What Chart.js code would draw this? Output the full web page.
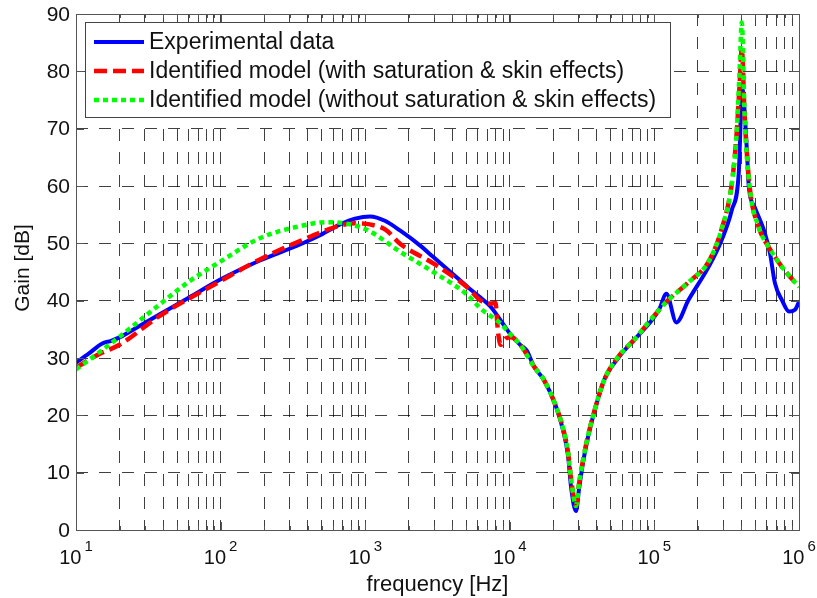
<!DOCTYPE html>
<html>
<head>
<meta charset="utf-8">
<script src="https://cdn.jsdelivr.net/npm/chart.js@4.4.0/dist/chart.umd.min.js"></script>
<style>
  html, body { margin: 0; padding: 0; background: #fff; }
  #wrap { width: 817px; height: 598px; }
</style>
</head>
<body>
<div id="wrap"><canvas id="bode" width="817" height="598"></canvas></div>
<script>
// axis ticks
const decades = [10, 100, 1000, 10000, 100000, 1000000];
const decadeExponents = ["1", "2", "3", "4", "5", "6"];
const gainTicks = [0, 10, 20, 30, 40, 50, 60, 70, 80, 90];
const xTitle = "frequency [Hz]";
const yTitle = "Gain [dB]";

const seriesNames = [
  "Experimental data",
  "Identified model (with saturation & skin effects)",
  "Identified model (without saturation & skin effects)"
];

// experimental data (blue)
const expFreq = [10, 12.3, 15.1, 17.5, 20, 27.5, 37.7, 61, 98, 187, 354, 487, 670, 850, 1080,
  1380, 1750, 2400, 2960, 3890, 5100, 6300, 7400, 8670, 10200, 11900, 13100, 14700, 17200, 20900,
  23300, 25300, 26500, 28700, 30100, 32100, 34800, 38300, 45000, 56200, 72600, 95300, 108000, 121000, 142000,
  172000, 237000, 292000, 343000, 383000, 405000, 435000, 450000, 494000, 580000, 630000, 681000, 762000, 853000, 938000,
  1000000];
const expGain = [29.2, 30.8, 32.5, 33.0, 33.6, 35.6, 37.6, 40.6, 43.6, 47.0, 49.8, 51.4, 53.3, 54.3, 54.7,
  53.9, 52.2, 49.6, 47.6, 45.0, 42.4, 40.5, 38.9, 36.5, 34.0, 32.2, 31.3, 28.5, 26.2, 21.5,
  17.5, 12.9, 7.6, 3.3, 7.1, 11.8, 16.3, 20.5, 26.2, 30.0, 33.2, 36.5, 38.5, 41.2, 36.2,
  40.1, 45.9, 50.6, 55.8, 62.2, 77.0, 66.7, 59.8, 56.3, 51.8, 48.3, 43.1, 40.1, 38.1, 38.4,
  39.8];

// model with saturation & skin effects (red)
const satFreq = [10, 14.5, 20, 37.7, 98, 187, 354, 670, 850, 1080, 1380, 1750, 2960, 5100, 6300,
  7400, 7950, 8300, 8670, 9370, 10200, 11900, 14700, 17200, 20900, 23300, 25300, 26500, 28700, 30100,
  32100, 34800, 38300, 45000, 56200, 72600, 95300, 121000, 172000, 237000, 292000, 343000, 370000, 389000, 402000,
  421000, 456000, 527000, 619000, 762000, 1000000];
const satGain = [28.3, 30.7, 32.3, 37.3, 43.3, 47.2, 50.4, 53.1, 53.5, 53.3, 52.4, 49.9, 46.5, 42.3, 40.0,
  39.5, 39.6, 34.4, 32.3, 33.4, 33.6, 32.2, 28.5, 26.2, 21.5, 17.8, 13.5, 9.0, 4.2, 8.0,
  12.2, 16.5, 20.6, 26.2, 30.2, 33.2, 36.8, 39.8, 43.2, 46.8, 52.5, 60.4, 69.0, 78.0, 84.0,
  72.0, 59.8, 52.8, 49.3, 45.9, 42.4];

// model without saturation & skin effects (green)
const noSatFreq = [10, 14.5, 20, 37.7, 61, 98, 187, 354, 545, 1000, 1750, 2960, 5100, 6300, 8670,
  10200, 11900, 14700, 17200, 20900, 23300, 25300, 26500, 28700, 30100, 32100, 34800, 38300, 45000, 56200,
  72600, 95300, 121000, 172000, 237000, 292000, 343000, 370000, 389000, 402000, 421000, 456000, 527000, 619000, 762000,
  1000000];
const noSatGain = [28.0, 31.0, 33.7, 39.3, 43.4, 46.7, 50.9, 53.0, 53.7, 52.5, 48.5, 45.0, 41.0, 38.6, 36.0,
  34.0, 32.2, 28.5, 26.2, 21.5, 17.8, 13.5, 9.0, 4.2, 8.0, 12.2, 16.5, 20.6, 26.2, 30.2,
  33.2, 36.8, 39.8, 43.2, 46.8, 52.5, 60.4, 69.0, 80.6, 88.5, 72.0, 59.8, 52.8, 49.3, 45.9,
  42.4];

const toPoints = (fs, gs) => fs.map((f, i) => ({ x: f, y: gs[i] }));

// all log grid positions: 1..9 x each decade
const logTicks = [];
decades.forEach((d, i) => {
  if (i === decades.length - 1) { logTicks.push(d); return; }
  for (let k = 1; k <= 9; k++) logTicks.push(d * k);
});

const FONT = '"Liberation Sans", Arial, sans-serif';
const styles = [
  { color: "#0000ff", width: 4, dash: [] },
  { color: "#ff0000", width: 4.5, dash: [13, 6] },
  { color: "#00ff00", width: 4.5, dash: [5, 4] }
];

const matlabAxes = {
  id: "matlabAxes",
  beforeDraw(chart) {
    const ctx = chart.ctx;
    ctx.save();
    ctx.fillStyle = "#fff";
    ctx.fillRect(0, 0, chart.width, chart.height);
    ctx.restore();
  },
  afterDatasetsDraw(chart) {
    const ctx = chart.ctx;
    const a = chart.chartArea;
    const xs = chart.scales.x, ys = chart.scales.y;
    ctx.save();

    // frame
    ctx.strokeStyle = "#555";
    ctx.lineWidth = 1;
    ctx.setLineDash([]);
    ctx.strokeRect(Math.round(a.left) + 0.5, Math.round(a.top) + 0.5,
      Math.round(a.right - a.left), Math.round(a.bottom - a.top));

    // ticks, inward on all sides
    ctx.beginPath();
    logTicks.forEach(v => {
      const px = Math.round(xs.getPixelForValue(v)) + 0.5;
      const len = decades.includes(v) ? 8 : 4;
      ctx.moveTo(px, a.bottom); ctx.lineTo(px, a.bottom - len);
      ctx.moveTo(px, a.top); ctx.lineTo(px, a.top + len);
    });
    gainTicks.forEach(v => {
      const py = Math.round(ys.getPixelForValue(v)) + 0.5;
      ctx.moveTo(a.left, py); ctx.lineTo(a.left + 8, py);
      ctx.moveTo(a.right, py); ctx.lineTo(a.right - 8, py);
    });
    ctx.stroke();

    // tick labels
    ctx.fillStyle = "#111";
    ctx.textBaseline = "middle";
    ctx.textAlign = "right";
    ctx.font = "21px " + FONT;
    gainTicks.forEach(v => {
      ctx.fillText(String(v), a.left - 6, ys.getPixelForValue(v) + 1);
    });
    ctx.textBaseline = "alphabetic";
    decades.forEach((d, i) => {
      const px = xs.getPixelForValue(d);
      ctx.font = "20px " + FONT;
      const w1 = ctx.measureText("10").width;
      ctx.font = "15px " + FONT;
      const w2 = ctx.measureText(decadeExponents[i]).width;
      const start = px - (w1 + 3 + w2) / 2;
      ctx.textAlign = "left";
      ctx.font = "20px " + FONT;
      ctx.fillText("10", start, 564);
      ctx.font = "15px " + FONT;
      ctx.fillText(decadeExponents[i], start + w1 + 3, 551);
    });

    // axis titles
    ctx.font = "22px " + FONT;
    ctx.textAlign = "center";
    ctx.textBaseline = "alphabetic";
    ctx.fillText(xTitle, (a.left + a.right) / 2, 591);
    ctx.save();
    ctx.translate(29, 268);
    ctx.rotate(-Math.PI / 2);
    ctx.font = "21px " + FONT;
    ctx.fillText(yTitle, 0, 0);
    ctx.restore();

    // legend
    const lx = 85.5, ly = 22.5, lw = 585, lh = 95;
    ctx.fillStyle = "#fff";
    ctx.fillRect(lx, ly, lw, lh);
    ctx.strokeStyle = "#444";
    ctx.lineWidth = 1;
    ctx.strokeRect(lx, ly, lw, lh);
    const rows = [42, 71, 100];
    ctx.font = "23px " + FONT;
    ctx.textAlign = "left";
    ctx.textBaseline = "middle";
    seriesNames.forEach((name, i) => {
      const s = styles[i];
      ctx.beginPath();
      ctx.strokeStyle = s.color;
      ctx.lineWidth = s.width;
      ctx.setLineDash(s.dash);
      ctx.moveTo(94, rows[i]);
      ctx.lineTo(144, rows[i]);
      ctx.stroke();
      ctx.setLineDash([]);
      ctx.fillStyle = "#111";
      ctx.fillText(name, 149, rows[i] + 1);
    });
    ctx.restore();
  }
};

const ctx = document.getElementById("bode").getContext("2d");
new Chart(ctx, {
  type: "line",
  data: {
    datasets: [
      { label: seriesNames[0], data: toPoints(expFreq, expGain), order: 3 },
      { label: seriesNames[1], data: toPoints(satFreq, satGain), order: 2 },
      { label: seriesNames[2], data: toPoints(noSatFreq, noSatGain), order: 1 }
    ].map((ds, i) => Object.assign(ds, {
      borderColor: styles[i].color,
      borderWidth: styles[i].width,
      borderDash: styles[i].dash,
      borderCapStyle: "butt",
      borderJoinStyle: "round",
      cubicInterpolationMode: "monotone",
      pointRadius: 0,
      fill: false
    }))
  },
  options: {
    responsive: false,
    animation: false,
    devicePixelRatio: 1,
    layout: { padding: { left: 0, top: 14, right: 18, bottom: 0 } },
    plugins: { legend: { display: false }, tooltip: { enabled: false } },
    scales: {
      x: {
        type: "logarithmic",
        min: 10,
        max: 1000000,
        afterBuildTicks: scale => { scale.ticks = logTicks.map(v => ({ value: v })); },
        afterFit: scale => { scale.height = 68; },
        ticks: { display: false },
        grid: { color: "rgba(0,0,0,0.75)", lineWidth: 1, drawTicks: false },
        border: { display: false, dash: [12, 11] }
      },
      y: {
        min: 0,
        max: 90,
        afterBuildTicks: scale => { scale.ticks = gainTicks.map(v => ({ value: v })); },
        afterFit: scale => { scale.width = 76; },
        ticks: { display: false },
        grid: { color: "rgba(0,0,0,0.75)", lineWidth: 1, drawTicks: false },
        border: { display: false, dash: [12, 11] }
      }
    }
  },
  plugins: [matlabAxes]
});
</script>
</body>
</html>
